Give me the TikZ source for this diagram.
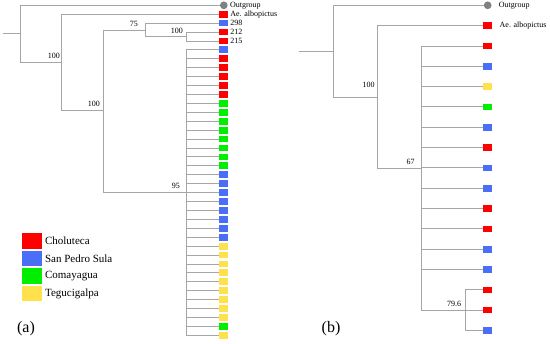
\documentclass[tikz,border=0pt]{standalone}
\usepackage{fontspec}
\setmainfont{Liberation Serif}
\usetikzlibrary{positioning}
\definecolor{chol}{HTML}{FF0000}
\definecolor{sps}{HTML}{4A6EF5}
\definecolor{coma}{HTML}{00EE00}
\definecolor{tegu}{HTML}{FFE04D}
\tikzset{
  branch/.style={draw=gray!70, line width=0.9pt},
  tipbox/.style={rectangle, minimum width=9pt, minimum height=6.8pt, inner sep=0pt},
  tipboxb/.style={rectangle, minimum width=9pt, minimum height=6.5pt, inner sep=0pt},
  outdot/.style={circle, fill=gray, minimum size=7.7pt, inner sep=0pt},
  tiplabel/.style={font=\fontsize{8}{9}\selectfont, inner sep=1pt},
  boot/.style={font=\fontsize{8}{9}\selectfont, inner sep=1pt},
  keybox/.style={rectangle, minimum width=20pt, minimum height=15.5pt, inner sep=0pt},
  keylabel/.style={font=\fontsize{11}{12}\selectfont, inner sep=1pt},
  panel/.style={font=\fontsize{16}{18}\selectfont}
}
\begin{document}
\begin{tikzpicture}[x=1pt,y=-1pt]
  \useasboundingbox (0,0) rectangle (550,344);
  % (a) full tree
  \coordinate (stuba) at (3,33);
  \coordinate (roota) at (20,33);
  \coordinate (na1) at (61,62);
  \coordinate (na2) at (103,110);
  \coordinate (na3) at (145,30);
  \coordinate (na4) at (186,36.5);
  \coordinate (pa) at (186,192);
  \node[outdot] (a0) at (223.8,5.3) {};
  \node[tipbox, fill=chol] (a1) at (223.5,14.2) {};
  \node[tipbox, fill=sps] (a2) at (223.5,23.1) {};
  \node[tipbox, fill=chol] (a3) at (223.5,32.1) {};
  \node[tipbox, fill=chol] (a4) at (223.5,41) {};
  \node[tiplabel, right=1pt of a0] {Outgroup};
  \node[tiplabel, right=1pt of a1] {Ae. albopictus};
  \node[tiplabel, right=1pt of a2] {298};
  \node[tiplabel, right=1pt of a3] {212};
  \node[tiplabel, right=1pt of a4] {215};
  \draw[branch] (stuba) -- (roota);
  \draw[branch] (roota) |- (a0.west);
  \draw[branch] (roota) |- (na1);
  \draw[branch] (na1) |- (a1.west);
  \draw[branch] (na1) |- (na2);
  \draw[branch] (na2) |- (na3);
  \draw[branch] (na2) |- (pa);
  \draw[branch] (na3) |- (a2.west);
  \draw[branch] (na3) |- (na4);
  \draw[branch] (na4) |- (a3.west);
  \draw[branch] (na4) |- (a4.west);
  \foreach \c [count=\i from 5] in {sps,chol,chol,chol,chol,chol,coma,coma,coma,coma,coma,coma,coma,coma,sps,sps,sps,sps,sps,sps,sps,sps,tegu,tegu,tegu,tegu,tegu,tegu,tegu,tegu,tegu,coma,tegu}{
    \node[tipbox, fill=\c] (a\i) at (223.5,{5.3+8.92*\i}) {};
    \draw[branch] (pa) |- (a\i.west);
  }
  \node[boot, above left=2pt and 0pt of na1] {100};
  \node[boot, above left=2pt and 2pt of na2] {100};
  \node[boot, above left=2pt and 6pt of na3] {75};
  \node[boot, above left=2pt and 2pt of na4] {100};
  \node[boot, above left=2pt and 5pt of pa] {95};
  % legend
  \foreach \c/\t [count=\k] in {chol/Choluteca, sps/San Pedro Sula, coma/Comayagua, tegu/Tegucigalpa}{
    \node[keybox, fill=\c] (key\k) at (31.7,{223.3+17.6*\k}) {};
    \node[keylabel, right=2pt of key\k] {\t};
  }
  \node[panel] (lbla) at (26,329) {(a)};
  % (b) reduced tree
  \coordinate (stubb) at (299.3,51.7);
  \coordinate (rootb) at (333.3,51.7);
  \coordinate (nb1) at (377.7,97.3);
  \coordinate (nb2) at (421.7,168);
  \coordinate (nb3) at (465.3,310);
  \node[outdot] (b0) at (487.7,5.3) {};
  \node[tipboxb, fill=chol] (b1) at (487.8,25.6) {};
  \node[tiplabel, right=6pt of b0] {Outgroup};
  \node[tiplabel, right=6pt of b1] {Ae. albopictus};
  \draw[branch] (stubb) -- (rootb);
  \draw[branch] (rootb) |- (b0.west);
  \draw[branch] (rootb) |- (nb1);
  \draw[branch] (nb1) |- (b1.west);
  \draw[branch] (nb1) |- (nb2);
  \draw[branch] (nb2) |- (nb3);
  \foreach \c [count=\i from 2] in {chol,sps,tegu,coma,sps,chol,sps,sps,chol,chol,sps,sps}{
    \node[tipboxb, fill=\c] (b\i) at (487.8,{5.3+20.33*\i}) {};
    \draw[branch] (nb2) |- (b\i.west);
  }
  \foreach \c [count=\i from 14] in {chol,chol,sps}{
    \node[tipboxb, fill=\c] (b\i) at (487.8,{5.3+20.33*\i}) {};
    \draw[branch] (nb3) |- (b\i.west);
  }
  \node[boot, above left=9pt and 2pt of nb1] {100};
  \node[boot, above left=2pt and 6pt of nb2] {67};
  \node[boot, above left=2pt and 3pt of nb3] {79.6};
  \node[panel] (lblb) at (331,329) {(b)};
\end{tikzpicture}
\end{document}
